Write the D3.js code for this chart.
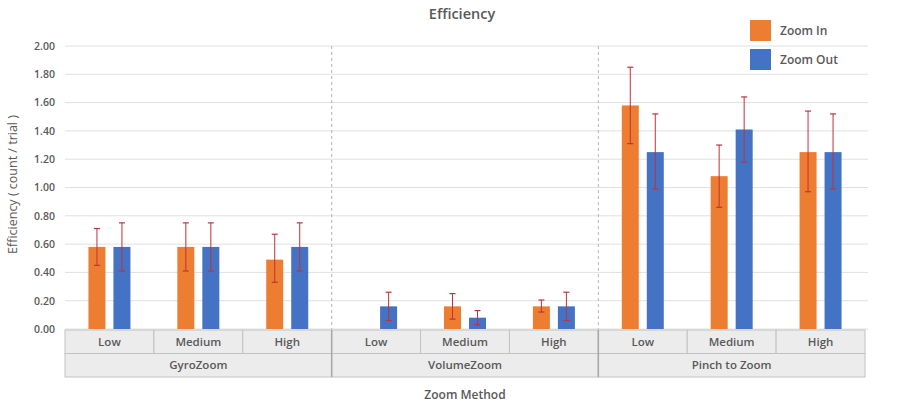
<!DOCTYPE html>
<html>
<head>
<meta charset="utf-8">
<script src="https://cdn.jsdelivr.net/npm/d3@7"></script>
<style>
  body { margin: 0; background: #fff; }
  text { font-family: "Open Sans", Lato, sans-serif; fill: #595959; }
</style>
</head>
<body>
<div id="chart"></div>
<script>
// chart data
const methods = ['GyroZoom', 'VolumeZoom', 'Pinch to Zoom'];
const levels = ['Low', 'Medium', 'High'];
const seriesNames = ['Zoom In', 'Zoom Out'];
const zoomIn = [0.58, 0.58, 0.49, 0.00, 0.16, 0.16, 1.58, 1.08, 1.25];
const zoomInLow = [0.45, 0.41, 0.33, null, 0.07, 0.12, 1.31, 0.86, 0.97];
const zoomInHigh = [0.71, 0.75, 0.67, null, 0.25, 0.205, 1.85, 1.30, 1.54];
const zoomOut = [0.58, 0.58, 0.58, 0.16, 0.08, 0.16, 1.25, 1.41, 1.25];
const zoomOutLow = [0.41, 0.41, 0.41, 0.06, 0.03, 0.06, 0.99, 1.18, 0.99];
const zoomOutHigh = [0.75, 0.75, 0.75, 0.26, 0.13, 0.26, 1.52, 1.64, 1.52];
const yTicks = [0, 0.2, 0.4, 0.6, 0.8, 1.0, 1.2, 1.4, 1.6, 1.8, 2.0];
const colors = ['#ED7D31', '#4472C4'];

const W = 908, H = 404;
const margin = {top: 46, left: 65, right: 43, bottom: 75};
const plotW = W - margin.left - margin.right;
const plotH = H - margin.top - margin.bottom;

// one row per (method, level)
const cats = [];
methods.forEach(m => levels.forEach(l => cats.push(m + '|' + l)));
const rows = cats.map((c, i) => ({
  key: c,
  vals: [
    {s: 0, v: zoomIn[i], lo: zoomInLow[i], hi: zoomInHigh[i]},
    {s: 1, v: zoomOut[i], lo: zoomOutLow[i], hi: zoomOutHigh[i]}
  ]
}));

const svg = d3.select('#chart').append('svg')
  .attr('width', W).attr('height', H);

const g = svg.append('g')
  .attr('transform', 'translate(' + margin.left + ',' + margin.top + ')');

const tableW = 800;
const x = d3.scaleBand().domain(cats).range([0, tableW]);
const xm = d3.scaleBand().domain(methods).range([0, tableW]);
const y = d3.scaleLinear().domain([0, 2]).range([plotH, 0]);

// gridlines
g.append('g').selectAll('line').data(yTicks).join('line')
  .attr('x1', 0).attr('x2', plotW + 3)
  .attr('y1', d => y(d)).attr('y2', d => y(d))
  .attr('stroke', '#e0e0e0').attr('stroke-width', 1);

// y axis labels
g.append('g').call(d3.axisLeft(y).tickValues(yTicks).tickFormat(d3.format('.2f')).tickSize(0).tickPadding(10))
  .call(a => a.select('.domain').remove())
  .selectAll('text')
  .style('font-size', '10.5px').style('font-weight', 600).attr('fill', '#595959');

// dashed separators
g.append('g').selectAll('line').data(methods.slice(1)).join('line')
  .attr('x1', d => xm(d)).attr('x2', d => xm(d))
  .attr('y1', 0).attr('y2', plotH)
  .attr('stroke', '#b5b5b5').attr('stroke-dasharray', '3,3');

// bars
const barW = 17, gap = 8;
const grp = g.append('g').selectAll('g').data(rows).join('g')
  .attr('transform', d => 'translate(' + (x(d.key) + x.bandwidth() / 2) + ',0)');

grp.selectAll('rect').data(d => d.vals.filter(v => v.v > 0)).join('rect')
  .attr('x', d => d.s === 0 ? -barW - gap / 2 : gap / 2)
  .attr('width', barW)
  .attr('y', d => y(d.v))
  .attr('height', d => plotH - y(d.v))
  .attr('fill', d => colors[d.s]);

// error bars
const eb = grp.selectAll('g.err').data(d => d.vals.filter(v => v.lo != null)).join('g')
  .attr('class', 'err')
  .attr('transform', d => 'translate(' + (d.s === 0 ? -barW / 2 - gap / 2 : barW / 2 + gap / 2) + ',0)');
eb.append('line').attr('x1', 0).attr('x2', 0)
  .attr('y1', d => y(d.lo)).attr('y2', d => y(d.hi))
  .attr('stroke', '#c0323a').attr('stroke-width', 1);
eb.append('line').attr('x1', -3).attr('x2', 3)
  .attr('y1', d => y(d.hi)).attr('y2', d => y(d.hi))
  .attr('stroke', '#c0323a').attr('stroke-width', 1.2);
eb.append('line').attr('x1', -3).attr('x2', 3)
  .attr('y1', d => y(d.lo)).attr('y2', d => y(d.lo))
  .attr('stroke', '#c0323a').attr('stroke-width', 1.2);

// category table
const rowH = 23.5;
const table = g.append('g').attr('transform', 'translate(0,' + (plotH + 1) + ')');
table.selectAll('rect.lv').data(cats).join('rect')
  .attr('class', 'lv')
  .attr('x', d => x(d)).attr('y', 0)
  .attr('width', x.bandwidth()).attr('height', rowH)
  .attr('fill', '#ececec').attr('stroke', '#c2c2c2');
table.selectAll('text.lv').data(cats).join('text')
  .attr('class', 'lv')
  .attr('x', d => x(d) + x.bandwidth() / 2).attr('y', rowH / 2 + 4)
  .attr('text-anchor', 'middle')
  .style('font-size', '11.5px').style('font-weight', 600)
  .text(d => d.split('|')[1]);
table.selectAll('rect.m').data(methods).join('rect')
  .attr('class', 'm')
  .attr('x', d => xm(d)).attr('y', rowH)
  .attr('width', xm.bandwidth()).attr('height', rowH)
  .attr('fill', '#ececec').attr('stroke', '#c2c2c2');
table.selectAll('text.m').data(methods).join('text')
  .attr('class', 'm')
  .attr('x', d => xm(d) + xm.bandwidth() / 2).attr('y', rowH * 1.5 + 4)
  .attr('text-anchor', 'middle')
  .style('font-size', '11.5px').style('font-weight', 600)
  .text(d => d);
// method separators go through the table darker
table.selectAll('line').data(methods.slice(1)).join('line')
  .attr('x1', d => xm(d)).attr('x2', d => xm(d))
  .attr('y1', 0).attr('y2', rowH * 2)
  .attr('stroke', '#a8a8a8').attr('stroke-width', 1.5);

// titles
svg.append('text')
  .attr('x', 462).attr('y', 19)
  .attr('text-anchor', 'middle')
  .style('font-size', '14.5px').style('font-weight', 600)
  .text('Efficiency');

svg.append('text')
  .attr('x', margin.left + tableW / 2).attr('y', 399)
  .attr('text-anchor', 'middle')
  .style('font-size', '12px').style('font-weight', 600)
  .text('Zoom Method');

svg.append('text')
  .attr('transform', 'translate(17,' + (margin.top + plotH / 2 - 3) + ') rotate(-90)')
  .attr('text-anchor', 'middle')
  .style('font-size', '12.5px')
  .text('Efficiency ( count / trial )');

// legend
const legend = svg.append('g').attr('transform', 'translate(750,20)');
const li = legend.selectAll('g').data(seriesNames).join('g')
  .attr('transform', (d, i) => 'translate(0,' + (i * 29) + ')');
li.append('rect').attr('width', 21).attr('height', 21)
  .attr('fill', (d, i) => colors[i]);
li.append('text').attr('x', 30).attr('y', 15)
  .style('font-size', '12px').style('font-weight', 600)
  .text(d => d);
</script>
</body>
</html>
